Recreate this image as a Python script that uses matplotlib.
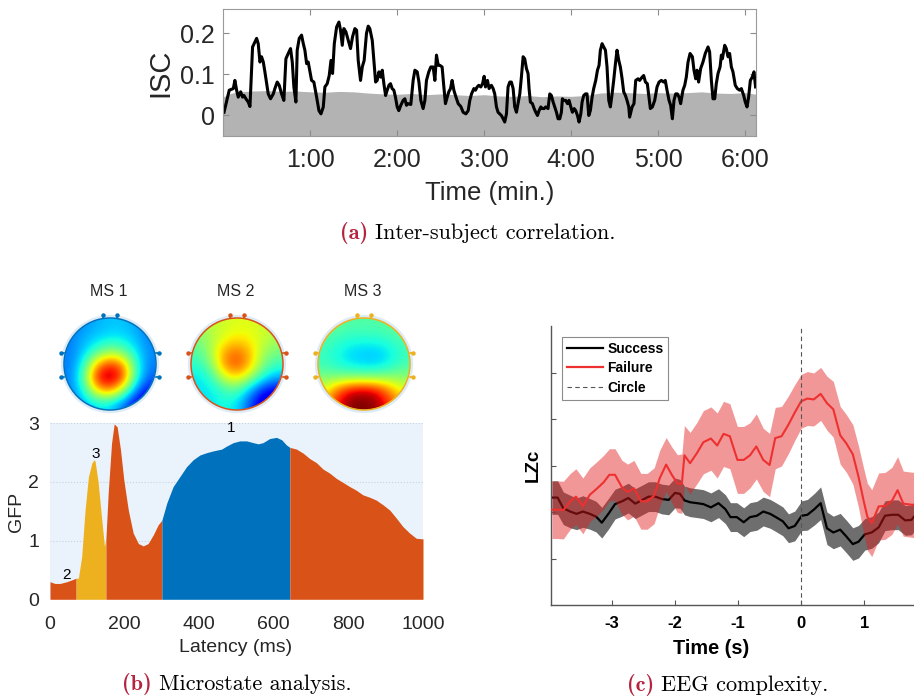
import numpy as np
import matplotlib
matplotlib.use('Agg')
import matplotlib.pyplot as plt
from matplotlib.patches import Circle
from matplotlib.lines import Line2D

# ---------------- data: (a) inter-subject correlation ----------------
isc_t = [0.5, 4.1, 6.9, 8.0, 9.2, 10.3, 12.0, 13.3, 14.3, 15.6, 17.2, 18.4, 20.2, 21.8, 23.0, 24.1, 25.3, 26.4, 27.6, 28.7,
         29.9, 31.0, 32.6, 34.5, 35.6, 37.2, 38.6, 40.2, 41.8, 43.2, 44.8, 46.4, 47.6, 48.7, 50.1, 51.0, 52.4, 54.0, 55.2, 56.3,
         57.5, 58.6, 59.8, 60.9, 62.5, 64.4, 66.0, 67.4, 69.0, 70.1, 71.7, 73.1, 74.3, 75.4, 76.6, 78.2, 79.8, 80.9, 82.1, 83.2,
         84.6, 86.2, 87.8, 89.2, 90.8,
         92.0, 93.1, 94.7, 95.9, 97.2, 98.8, 100.0, 101.1, 102.8, 103.9, 105.1, 106.2, 107.4, 108.7, 109.7, 110.8, 112.0, 113.1, 114.3, 115.4,
         116.5, 117.7, 118.8, 120.0, 121.1, 122.5, 124.1, 125.3, 126.4, 127.6, 129.4, 131.0, 132.2, 133.8, 135.0, 136.3, 137.9, 139.1, 140.2, 141.8,
         143.2, 144.8, 146.0, 147.1, 148.3, 149.4, 151.0, 152.2, 153.3, 154.5, 155.6, 156.8, 157.9, 159.1, 160.2, 162.1, 163.9, 165.5, 167.4, 169.0,
         170.1, 171.3, 172.9, 174.0, 175.2, 176.3, 177.7, 178.9, 180.0, 180.9, 182.3, 183.4,
         185.0, 186.2, 187.3, 188.5, 189.6, 190.8, 191.9, 193.1, 194.2, 195.4, 196.5, 197.7, 198.8, 200.0, 201.1, 202.3, 203.4, 204.6, 205.7, 206.9,
         208.0, 209.2, 210.3, 211.0, 211.9, 213.3, 214.5, 215.6, 216.8, 217.9, 219.1, 220.2, 221.4, 222.5, 224.1, 225.3, 226.4, 227.6, 228.7, 229.9,
         231.0, 232.2, 233.3, 234.0, 234.9, 236.3, 237.5, 238.6, 239.8, 240.9, 242.1, 243.2, 244.4, 245.5, 246.7, 247.6, 248.7, 249.9, 251.0, 252.2,
         253.3, 254.5, 255.6, 257.0, 258.2, 259.3, 260.2, 261.4, 262.5, 263.7, 264.8, 266.0, 267.1, 268.3, 269.4, 270.6, 271.7, 272.9, 274.0, 275.2,
         276.3, 277.5, 278.6, 279.8,
         280.4, 282.1, 283.4, 284.6, 286.2, 287.3, 289.0, 290.1, 291.3, 292.6, 293.6, 294.7, 296.1, 297.7, 299.3, 300.7, 302.3, 303.9, 305.0, 306.2,
         307.6, 308.7, 309.9, 311.0, 312.2, 313.3, 314.5, 315.6, 317.2, 318.4, 319.5, 320.7, 322.1, 323.7, 324.8, 326.0, 326.9, 328.0, 329.4, 331.0,
         332.6, 334.5, 335.6, 336.8, 337.9, 339.1, 340.2, 341.4, 342.8, 343.7, 344.4, 346.0, 347.1, 348.3, 349.4, 350.6, 351.7, 353.3, 354.7, 356.3,
         357.5, 359.1, 360.2, 361.4, 362.5, 363.7, 365.0, 366.2, 367.3]
isc_v = [0.007, 0.061, 0.065, 0.085, 0.061, 0.044, 0.057, 0.044, 0.048, 0.040, 0.032, 0.021, 0.167, 0.179, 0.188, 0.175, 0.130, 0.143, 0.130, 0.106,
         0.077, 0.052, 0.040, 0.052, 0.065, 0.081, 0.073, 0.052, 0.036, 0.138, 0.151, 0.163, 0.130, 0.069, 0.032, 0.159, 0.188, 0.196, 0.175, 0.159,
         0.126, 0.130, 0.106, 0.085, 0.081, 0.044, 0.011, 0.003, 0.020, 0.069, 0.077, 0.097, 0.134, 0.102, 0.175, 0.216, 0.228, 0.208, 0.171, 0.212,
         0.204, 0.183, 0.163, 0.192, 0.212,
         0.208, 0.134, 0.085, 0.118, 0.134, 0.200, 0.218, 0.212, 0.183, 0.134, 0.081, 0.085, 0.106, 0.093, 0.110, 0.077, 0.048, 0.061, 0.073, 0.077,
         0.065, 0.061, 0.044, 0.020, 0.011, 0.024, 0.036, 0.040, 0.024, 0.028, 0.026, 0.085, 0.110, 0.106, 0.081, 0.036, 0.016, 0.036, 0.085, 0.106,
         0.118, 0.118, 0.085, 0.147, 0.122, 0.122, 0.118, 0.069, 0.028, 0.044, 0.057, 0.065, 0.085, 0.061, 0.048, 0.028, 0.021, 0.007, 0.003, 0.011,
         0.036, 0.052, 0.065, 0.061, 0.069, 0.073, 0.069, 0.077, 0.095, 0.069, 0.085, 0.065,
         0.073, 0.065, 0.052, 0.020, 0.007, 0.003, -0.001, -0.009, -0.017, 0.003, 0.069, 0.081, 0.081, 0.065, 0.020, 0.007, 0.028, 0.052, 0.093, 0.143,
         0.138, 0.114, 0.102, 0.065, 0.032, 0.028, 0.016, 0.007, -0.001, 0.011, 0.020, 0.016, 0.016, 0.020, 0.016, 0.052, 0.048, 0.032, 0.020, 0.007,
         -0.009, -0.009, 0.007, 0.040, 0.036, 0.036, 0.028, 0.036, 0.020, 0.007, 0.016, 0.011, -0.001, -0.017, 0.003, 0.032, 0.048, 0.052, 0.052, -0.001,
         0.011, 0.044, 0.065, 0.085, 0.110, 0.122, 0.159, 0.175, 0.167, 0.159, 0.118, 0.036, 0.020, 0.052, 0.085, 0.126, 0.159, 0.134, 0.118, 0.089,
         0.057, 0.048, 0.036, 0.020,
         -0.005, 0.020, 0.028, 0.085, 0.089, 0.085, 0.093, 0.097, 0.081, 0.077, 0.048, 0.016, 0.020, 0.036, 0.069, 0.081, 0.085, 0.081, 0.085, 0.061,
         0.036, 0.024, -0.009, 0.036, 0.052, 0.052, 0.044, 0.028, 0.061, 0.073, 0.093, 0.130, 0.151, 0.143, 0.110, 0.089, 0.110, 0.081, 0.114, 0.130,
         0.151, 0.167, 0.155, 0.085, 0.040, 0.040, 0.077, 0.102, 0.118, 0.147, 0.138, 0.171, 0.163, 0.143, 0.151, 0.118, 0.106, 0.073, 0.065, 0.061,
         0.065, 0.048, 0.032, 0.020, 0.044, 0.085, 0.093, 0.106, 0.069]
null_t = [0, 5, 10, 20, 30, 40, 50, 60, 70, 80, 90, 100, 110, 120, 130, 140, 150, 160, 170, 180,
          190, 200, 210, 220, 230, 240, 250, 260, 270, 280, 290, 300, 310, 320, 330, 340, 350, 360, 368]
null_v = [0.045, 0.053, 0.057, 0.059, 0.060, 0.058, 0.059, 0.057, 0.056, 0.058, 0.057, 0.054, 0.052, 0.051, 0.053, 0.050, 0.052, 0.050, 0.048, 0.050,
          0.047, 0.046, 0.048, 0.045, 0.047, 0.046, 0.048, 0.054, 0.056, 0.055, 0.053, 0.055, 0.054, 0.055, 0.057, 0.054, 0.053, 0.055, 0.051]
isc_xticks = [60, 120, 180, 240, 300, 360]
isc_xticklabels = ['1:00', '2:00', '3:00', '4:00', '5:00', '6:00']
isc_yticks = [0, 0.1, 0.2]
isc_yticklabels = ['0', '0.1', '0.2']

# ---------------- data: (b) microstates ----------------
latency = [0, 13, 27, 45, 58, 70, 76, 85, 94, 103, 112, 118, 121, 129, 138, 146, 150, 156, 165, 172,
           180, 189, 198, 210, 223, 237, 250, 263, 277, 290, 300, 313, 330, 348, 366, 384, 402, 420, 438, 460,
           473, 491, 509, 527, 545, 558, 571, 589, 607, 621, 634, 643, 661, 679, 696, 714, 732, 750, 768, 786,
           804, 821, 839, 857, 875, 893, 911, 929, 946, 964, 982, 1000]
gfp = [0.30, 0.27, 0.27, 0.30, 0.33, 0.36, 0.36, 0.73, 1.52, 2.09, 2.32, 2.38, 2.35, 2.00, 1.41, 0.90, 1.05, 1.81, 2.66, 2.99,
       2.94, 2.55, 2.03, 1.52, 1.13, 0.95, 0.91, 0.95, 1.10, 1.27, 1.35, 1.64, 1.92, 2.09, 2.26, 2.38, 2.46, 2.50, 2.53, 2.56,
       2.61, 2.67, 2.70, 2.70, 2.67, 2.65, 2.67, 2.74, 2.76, 2.72, 2.63, 2.59, 2.56, 2.49, 2.40, 2.33, 2.22, 2.15, 2.06, 1.99,
       1.92, 1.86, 1.78, 1.74, 1.69, 1.61, 1.52, 1.38, 1.24, 1.13, 1.04, 1.03]
seg_bounds = [0, 70, 150, 300, 643, 1000]
seg_states = [2, 3, 2, 1, 2]
state_labels = ['2', '3', '1']
state_label_pos_ms = [45, 122, 485]
state_label_pos_gfp = [0.42, 2.47, 2.92]
ms_titles = ['MS 1', 'MS 2', 'MS 3']
ms_colors = {1: '#0072BD', 2: '#D95319', 3: '#EDB120'}
# coarse topography grids (jet scale 0..1), rows top->bottom
ms1_map = [[0.24, 0.27, 0.30, 0.32, 0.32, 0.29, 0.24],
           [0.25, 0.30, 0.33, 0.35, 0.35, 0.31, 0.25],
           [0.25, 0.32, 0.42, 0.52, 0.46, 0.35, 0.26],
           [0.25, 0.38, 0.72, 0.86, 0.76, 0.40, 0.25],
           [0.25, 0.45, 0.90, 1.00, 0.86, 0.40, 0.22],
           [0.25, 0.38, 0.68, 0.78, 0.55, 0.25, 0.12],
           [0.25, 0.30, 0.35, 0.34, 0.24, 0.10, 0.05]]
ms2_map = [[0.55, 0.58, 0.60, 0.62, 0.62, 0.60, 0.58],
           [0.50, 0.55, 0.62, 0.66, 0.64, 0.60, 0.55],
           [0.45, 0.55, 0.73, 0.79, 0.71, 0.55, 0.50],
           [0.40, 0.50, 0.76, 0.85, 0.72, 0.50, 0.42],
           [0.35, 0.40, 0.60, 0.68, 0.55, 0.38, 0.30],
           [0.35, 0.35, 0.42, 0.45, 0.30, 0.15, 0.10],
           [0.35, 0.35, 0.38, 0.35, 0.20, 0.05, 0.03]]
ms3_map = [[0.48, 0.47, 0.45, 0.45, 0.45, 0.47, 0.48],
           [0.45, 0.42, 0.40, 0.40, 0.40, 0.42, 0.45],
           [0.42, 0.38, 0.34, 0.33, 0.33, 0.36, 0.42],
           [0.42, 0.38, 0.35, 0.33, 0.33, 0.37, 0.43],
           [0.50, 0.50, 0.50, 0.50, 0.50, 0.52, 0.52],
           [0.62, 0.80, 0.92, 0.95, 0.90, 0.75, 0.62],
           [0.70, 0.90, 1.00, 1.00, 0.98, 0.85, 0.70]]
gfp_xticks = [0, 200, 400, 600, 800, 1000]
gfp_yticks = [0, 1, 2, 3]

# ---------------- data: (c) EEG complexity ----------------
succ_t = [-3.95, -3.86, -3.77, -3.66, -3.56, -3.46, -3.35, -3.25, -3.16, -3.05, -2.95, -2.84, -2.74, -2.63, -2.53, -2.42, -2.31, -2.21, -2.10, -2.00,
          -1.92, -1.85, -1.76, -1.65, -1.55, -1.43, -1.31, -1.20, -1.12, -1.02, -0.91, -0.81, -0.70, -0.60, -0.49, -0.40, -0.29, -0.20, -0.10, 0.01,
          0.10, 0.21, 0.31, 0.41, 0.51, 0.62, 0.72, 0.82, 0.91, 1.01, 1.12, 1.23, 1.33, 1.44, 1.54, 1.65, 1.75, 1.79]
succ_v = [2.31, 2.31, 2.08, 2.01, 1.96, 2.01, 1.96, 1.90, 1.77, 1.97, 2.17, 2.23, 2.30, 2.18, 2.25, 2.33, 2.33, 2.28, 2.26, 2.41,
          2.39, 2.25, 2.21, 2.19, 2.17, 2.10, 2.19, 2.06, 1.89, 1.89, 1.78, 1.89, 1.92, 2.01, 1.96, 1.89, 1.80, 1.65, 1.70, 1.92,
          1.94, 2.06, 2.19, 1.65, 1.56, 1.62, 1.47, 1.31, 1.36, 1.52, 1.56, 1.67, 1.92, 1.94, 1.94, 1.82, 1.83, 1.90]
succ_err = [0.36, 0.36, 0.35, 0.35, 0.34, 0.34, 0.33, 0.33, 0.33, 0.33, 0.32, 0.32, 0.32, 0.32, 0.32, 0.32, 0.32, 0.32, 0.32, 0.32,
            0.31, 0.31, 0.31, 0.31, 0.31, 0.31, 0.31, 0.31, 0.31, 0.31, 0.31, 0.31, 0.31, 0.31, 0.31, 0.31, 0.31, 0.31, 0.32, 0.32,
            0.33, 0.34, 0.35, 0.35, 0.35, 0.35, 0.35, 0.35, 0.35, 0.34, 0.34, 0.33, 0.32, 0.32, 0.32, 0.32, 0.32, 0.32]
fail_t = [-3.95, -3.86, -3.77, -3.66, -3.57, -3.46, -3.35, -3.24, -3.13, -3.04, -2.95, -2.84, -2.75, -2.65, -2.54, -2.44, -2.33, -2.24, -2.14, -2.05,
          -1.96, -1.89, -1.85, -1.76, -1.65, -1.55, -1.43, -1.33, -1.23, -1.13, -1.01, -0.91, -0.81, -0.71, -0.60, -0.50, -0.41, -0.31, -0.20, -0.10,
          0.00, 0.10, 0.20, 0.31, 0.41, 0.51, 0.62, 0.72, 0.82, 0.91, 0.99, 1.05, 1.12, 1.23, 1.33, 1.44, 1.53, 1.62, 1.73, 1.79]
fail_v = [2.05, 2.05, 2.04, 2.23, 2.33, 2.13, 2.37, 2.50, 2.64, 2.80, 2.80, 2.53, 2.43, 2.51, 2.23, 2.23, 2.35, 2.73, 3.02, 2.80,
          2.61, 2.61, 3.22, 3.05, 3.27, 3.50, 3.58, 3.43, 3.68, 3.63, 3.12, 3.12, 3.22, 3.41, 3.12, 3.01, 3.59, 3.63, 3.88, 4.14,
          4.38, 4.44, 4.42, 4.54, 4.34, 4.21, 3.65, 3.47, 3.24, 2.76, 2.25, 1.90, 1.76, 2.12, 2.13, 2.24, 2.47, 2.18, 2.16, 2.15]
fail_err = [0.62, 0.62, 0.62, 0.60, 0.60, 0.60, 0.58, 0.58, 0.58, 0.56, 0.56, 0.58, 0.60, 0.60, 0.60, 0.60, 0.60, 0.60, 0.58, 0.60,
            0.62, 0.64, 0.64, 0.66, 0.66, 0.68, 0.68, 0.70, 0.70, 0.70, 0.72, 0.72, 0.70, 0.70, 0.68, 0.68, 0.66, 0.64, 0.62, 0.60,
            0.58, 0.58, 0.57, 0.57, 0.58, 0.60, 0.62, 0.62, 0.64, 0.66, 0.70, 0.72, 0.72, 0.72, 0.72, 0.72, 0.72, 0.70, 0.70, 0.70]
lzc_xticks = [-3, -2, -1, 0, 1]
lzc_xticklabels = ['-3', '-2', '-1', '0', '1']
lzc_yticks = [1, 2, 3, 4, 5]
legend_labels = ['Success', 'Failure', 'Circle']

# ---------------- figure ----------------
W, H = 914, 699
fig = plt.figure(figsize=(W / 100, H / 100), dpi=100)
plt.rcParams['font.family'] = ['Liberation Sans', 'DejaVu Sans']
TXT = '#262626'
CAP_RED = '#B5233F'
renderer = fig.canvas.get_renderer()


def fx(px):
    return px / W


def fy(py):
    return 1 - py / H


def caption(xc, y, tag, text, size=16):
    t1 = fig.text(0, fy(y), tag, ha='left', va='center', fontsize=size,
                  family=['cmb10', 'DejaVu Serif'], color=CAP_RED)
    t2 = fig.text(0, fy(y), text, ha='left', va='center', fontsize=size,
                  family=['cmr10', 'DejaVu Serif'], color='black')
    w1 = t1.get_window_extent(renderer).width
    w2 = t2.get_window_extent(renderer).width
    gap = size * 0.45
    total = w1 + gap + w2
    x0 = xc - total / 2
    t1.set_x(fx(x0))
    t2.set_x(fx(x0 + w1 + gap))


# ---------- panel (a) ----------
axA = fig.add_axes([fx(223.3), fy(135.5), (756 - 223.3) / W, (135.5 - 9) / H])
axA.fill_between(null_t, -0.05, null_v, color='#b3b3b3', lw=0, zorder=1)
axA.plot(isc_t, isc_v, color='black', lw=2.2, zorder=2, solid_joinstyle='round')
axA.set_xlim(0, 367.6)
axA.set_ylim(-0.05, 0.26)
axA.set_xticks(isc_xticks)
axA.set_xticklabels(isc_xticklabels)
axA.set_yticks(isc_yticks)
axA.set_yticklabels(isc_yticklabels)
axA.tick_params(direction='in', length=4, width=0.8, color='#8c8c8c', labelsize=18,
                labelcolor=TXT, top=True, right=True)
axA.tick_params(axis='x', pad=9)
axA.tick_params(axis='y', pad=6)
for s in axA.spines.values():
    s.set_color('#9a9a9a')
    s.set_linewidth(0.8)
fig.text(fx(160.6), fy(73), 'ISC', rotation=90, ha='center', va='center', fontsize=21, color=TXT)
fig.text(fx(490), fy(193.5), 'Time (min.)', ha='center', va='center', fontsize=18.5, color=TXT)
caption(478, 233, '(a)', 'Inter-subject correlation.')

# ---------- panel (b) topographies ----------
head_cx = [110, 237, 364]
head_cy = 364
maps = [ms1_map, ms2_map, ms3_map]
for i in range(3):
    col = ms_colors[i + 1]
    cx = head_cx[i]
    axh = fig.add_axes([fx(cx - 52), fy(head_cy + 52), 104 / W, 104 / H])
    lim = 52 / 46.0
    axh.set_xlim(-lim, lim)
    axh.set_ylim(-lim, lim)
    axh.add_patch(Circle((0, 0), 1.03, fc='none', ec='#cfe3f5', lw=2.5, alpha=0.7))
    im = axh.imshow(np.array(maps[i]), cmap='jet', vmin=0, vmax=1, extent=(-1, 1, -1, 1),
                    interpolation='bicubic', origin='upper')
    im.set_clip_path(Circle((0, 0), 1, transform=axh.transData))
    axh.add_patch(Circle((0, 0), 1, fill=False, ec=col, lw=1.1))
    # nose / ear markers
    for xm in (-0.15, 0.15):
        axh.plot([xm, xm], [0.99, 1.06], color=col, lw=1.2)
        axh.plot([xm], [1.06], marker='o', ms=2.2, color=col)
    for side in (-1, 1):
        for ym in (0.23, -0.28):
            axh.plot([side * 0.99, side * 1.06], [ym, ym], color=col, lw=1.2)
            axh.plot([side * 1.06], [ym], marker='o', ms=2.2, color=col)
    axh.set_aspect('equal')
    axh.axis('off')
    fig.text(fx(cx - 1), fy(292), ms_titles[i], ha='center', va='center', fontsize=11.5, color=TXT)

# ---------- panel (b) GFP ----------
axB = fig.add_axes([fx(50), fy(599.3), 373 / W, 176 / H])
axB.set_facecolor('#EAF3FB')
lat = np.array(latency)
g = np.array(gfp)
for k, st in enumerate(seg_states):
    m = (lat >= seg_bounds[k]) & (lat <= seg_bounds[k + 1])
    axB.fill_between(lat[m], 0, g[m], color=ms_colors[st], lw=0, zorder=2)
for lab, xm, ym in zip(state_labels, state_label_pos_ms, state_label_pos_gfp):
    axB.text(xm, ym, lab, ha='center', va='center', fontsize=11, color='black', zorder=3)
axB.set_xlim(0, 1000)
axB.set_ylim(0, 3)
axB.set_xticks(gfp_xticks)
axB.set_yticks(gfp_yticks)
axB.grid(axis='y', color='#c5d3e0', ls=':', lw=0.8, zorder=1)
axB.set_axisbelow(True)
for s in axB.spines.values():
    s.set_visible(False)
axB.tick_params(length=0, labelsize=14, labelcolor=TXT)
axB.tick_params(axis='x', pad=12)
axB.tick_params(axis='y', pad=8)
fig.text(fx(17), fy(512), 'GFP', rotation=90, ha='center', va='center', fontsize=14, color=TXT)
fig.text(fx(236), fy(647), 'Latency (ms)', ha='center', va='center', fontsize=14, color=TXT)
caption(237, 684, '(b)', 'Microstate analysis.')

# ---------- panel (c) ----------
axC = fig.add_axes([fx(550.7), fy(605), (914 - 550.7) / W, (605 - 326) / H])
st_ = np.array(succ_t); sv = np.array(succ_v); se = np.array(succ_err)
ft = np.array(fail_t); fv = np.array(fail_v); fe = np.array(fail_err)
axC.fill_between(st_, sv - se, sv + se, color='#6e6e6e', lw=0, zorder=1)
axC.plot(st_, sv, color='black', lw=1.6, zorder=2)
axC.fill_between(ft, fv - fe, fv + fe, color='#e31a1a', alpha=0.45, lw=0, zorder=3)
axC.plot(ft, fv, color='#ee3030', lw=1.5, zorder=4)
axC.axvline(0, color='#555555', lw=0.8, ls=(0, (4, 3)), zorder=5)
axC.set_xlim(-3.97, 1.79)
axC.set_ylim(0, 6)
axC.set_xticks(lzc_xticks)
axC.set_xticklabels(lzc_xticklabels, fontweight='bold')
axC.set_yticks(lzc_yticks)
axC.set_yticklabels([])
axC.tick_params(direction='in', length=3.5, width=0.8, color='#555555', labelsize=12, labelcolor='black')
axC.tick_params(axis='x', pad=8)
axC.spines['top'].set_visible(False)
axC.spines['right'].set_visible(False)
for s in ('left', 'bottom'):
    axC.spines[s].set_color('#555555')
    axC.spines[s].set_linewidth(1.0)
handles = [Line2D([], [], color='black', lw=1.6),
           Line2D([], [], color='#ee3030', lw=1.6),
           Line2D([], [], color='#555555', lw=0.8, ls=(0, (4, 3)))]
leg = axC.legend(handles, legend_labels, loc='upper left', bbox_to_anchor=(0.031, 0.961),
                 borderaxespad=0, prop={'weight': 'bold', 'size': 10}, frameon=True,
                 fancybox=False, framealpha=1, edgecolor='#8c8c8c', handlelength=2.6,
                 handletextpad=0.3, labelspacing=0.4, borderpad=0.35)
leg.get_frame().set_linewidth(0.8)
fig.text(fx(533), fy(465), 'LZc', rotation=90, ha='center', va='center', fontsize=13.5,
         fontweight='bold', color='black')
fig.text(fx(711), fy(649), 'Time (s)', ha='center', va='center', fontsize=14.3,
         fontweight='bold', color='black')
caption(728, 685, '(c)', 'EEG complexity.')

fig.savefig('out.png', dpi=100)
